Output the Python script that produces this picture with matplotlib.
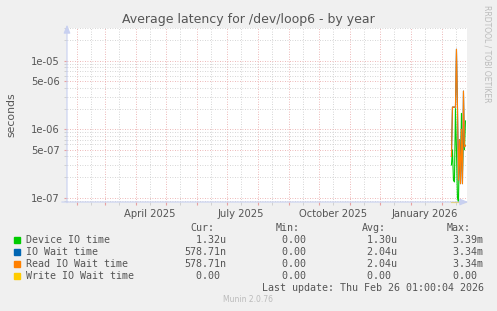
import numpy as np
import matplotlib
matplotlib.use("Agg")
import matplotlib.pyplot as plt
import matplotlib.dates as mdates
import matplotlib.ticker as mticker
from datetime import datetime, timedelta

# ---- data ----
dates = [datetime(2026, 2, d, 12) for d in range(10, 25)]
device_io = [3.0e-7, 5.0e-7, 1.8e-7, 1.7e-7, 2.0e-6, 5.0e-7, 1.0e-7, 0.0,
             7.0e-7, 2.2e-7, 1.7e-6, 2.4e-7, 1.0e-6, 5.0e-7, 1.32e-6]
io_wait = [4.0e-7, 2.1e-6, 2.1e-6, 2.1e-6, 2.1e-6, 1.47e-5, 2.2e-6, 1.8e-7,
           7.0e-7, 1.6e-7, 1.0e-6, 1.6e-7, 3.6e-6, 5.5e-7, 5.79e-7]
read_io_wait = [4.0e-7, 2.1e-6, 2.1e-6, 2.1e-6, 2.1e-6, 1.47e-5, 2.2e-6, 1.8e-7,
                7.0e-7, 1.6e-7, 1.0e-6, 1.6e-7, 3.6e-6, 5.5e-7, 5.79e-7]
write_io_wait = [0.0] * 15

series_names = ["Device IO time", "IO Wait time", "Read IO Wait time", "Write IO Wait time"]
series_colors = ["#00CC00", "#0066B3", "#FF8000", "#FFCC00"]
cur_vals = ["1.32u", "578.71n", "578.71n", "0.00"]
min_vals = ["0.00", "0.00", "0.00", "0.00"]
avg_vals = ["1.30u", "2.04u", "2.04u", "0.00"]
max_vals = ["3.39m", "3.34m", "3.34m", "0.00"]

title = "Average latency for /dev/loop6 - by year"
ylabel = "seconds"
last_update = "Last update: Thu Feb 26 01:00:04 2026"
end_time = datetime(2026, 2, 26, 1, 0, 4)
start_time = end_time - timedelta(days=400)
y_min, y_max = 8.65e-8, 3.0e-5

# ---- figure ----
W, H = 497, 311
fig = plt.figure(figsize=(W / 100, H / 100), dpi=100)
fig.patch.set_facecolor("#F0F0F0")
L, R, T, B = 67, 467, 28, 202
ax = fig.add_axes([L / W, 1 - B / H, (R - L) / W, (B - T) / H])
ax.set_facecolor("white")
ax.set_yscale("log")
ax.set_xlim(start_time, end_time)
ax.set_ylim(y_min, y_max)

for s in ax.spines.values():
    s.set_visible(False)

# grid
ax.xaxis.set_major_locator(mdates.MonthLocator(bymonthday=1))
ax.xaxis.set_major_formatter(mticker.NullFormatter())
ax.xaxis.set_minor_locator(mdates.MonthLocator(bymonthday=15))
def xfmt(x, pos):
    d = mdates.num2date(x)
    return d.strftime("%B %Y") if d.month in (1, 4, 7, 10) else ""
ax.xaxis.set_minor_formatter(mticker.FuncFormatter(xfmt))

ax.yaxis.set_major_locator(mticker.LogLocator(base=10, subs=(1.0, 5.0)))
ax.yaxis.set_minor_locator(mticker.LogLocator(base=10, subs=(2, 3, 4, 6, 7, 8, 9)))
ax.yaxis.set_major_formatter(mticker.FuncFormatter(lambda v, p: f"{v:.0e}"))
ax.yaxis.set_minor_formatter(mticker.NullFormatter())

ax.grid(True, which="major", color="#E8A0A0", linestyle=(0, (1, 2)), linewidth=0.6)
ax.grid(True, which="minor", color="#C8C8C8", linestyle=(0, (1, 2)), linewidth=0.6)
ax.set_axisbelow(True)

ax.tick_params(axis="x", which="major", length=2, color="#E8A0A0", pad=2)
ax.tick_params(axis="x", which="minor", length=2, color="#CCCCCC", labelsize=7.2,
               labelcolor="#555555", pad=3)
ax.tick_params(axis="y", which="major", length=2, color="#E8A0A0", labelsize=7.2,
               labelcolor="#555555", pad=3)
ax.tick_params(axis="y", which="minor", length=2, color="#CCCCCC")

# axis lines with arrows
ax.annotate("", xy=(0, 1.035), xytext=(0, -0.02), xycoords="axes fraction",
            arrowprops=dict(arrowstyle="-|>,head_width=0.2,head_length=0.5",
                            color="#C8D0F0", lw=0.8), annotation_clip=False)
ax.annotate("", xy=(1.01, 0), xytext=(-0.02, 0), xycoords="axes fraction",
            arrowprops=dict(arrowstyle="-|>,head_width=0.2,head_length=0.5",
                            color="#C8D0F0", lw=0.8), annotation_clip=False)

# data
dnum = mdates.date2num(dates)
ax.plot(dnum, np.maximum(write_io_wait, y_min), color=series_colors[3], lw=0.8, clip_on=False)
ax.plot(dnum, np.maximum(device_io, y_min), color=series_colors[0], lw=0.8)
ax.plot(dnum, np.maximum(io_wait, y_min), color=series_colors[1], lw=0.8)
ax.plot(dnum, np.maximum(read_io_wait, y_min), color=series_colors[2], lw=0.8)

# texts
fig.text(248 / W, 1 - 19 / H, title, ha="center", va="center", fontsize=9, color="#555555")
fig.text(11 / W, 1 - 115 / H, ylabel, ha="center", va="center", rotation=90,
         fontsize=7.8, color="#555555")
fig.text(487 / W, 1 - 5 / H, "RRDTOOL / TOBI OETIKER", ha="center", va="top",
         rotation=270, fontsize=5.5, color="#BBBBBB")

mono = "DejaVu Sans Mono"
fs = 7.2
def tx(x, y, s, **kw):
    fig.text(x / W, 1 - y / H, s, family=mono, fontsize=fs, color="#555555",
             va="center", ha="left", **kw)

tx(190, 228, "Cur:")
tx(276, 228, "Min:")
tx(362, 228, "Avg:")
tx(447, 228, "Max:")

def pad(v):
    return f"{v:>7}" if v[-1].isalpha() else f"{v:>6} "

row_y = [240, 252, 264, 276]
for i in range(4):
    y = row_y[i]
    fig.patches.append(plt.Rectangle((14 / W, 1 - (y + 3) / H), 6 / W, 6 / H,
                                     transform=fig.transFigure, color=series_colors[i]))
    tx(26, y, series_names[i])
    tx(184, y, pad(cur_vals[i]))
    tx(270, y, pad(min_vals[i]))
    tx(355, y, pad(avg_vals[i]))
    tx(441, y, pad(max_vals[i]))

tx(262, 288, last_update)
fig.text(248 / W, 1 - 300 / H, "Munin 2.0.76", ha="center", va="center",
         fontsize=5.5, color="#BBBBBB")

fig.savefig("out.png", dpi=100, facecolor=fig.get_facecolor())
